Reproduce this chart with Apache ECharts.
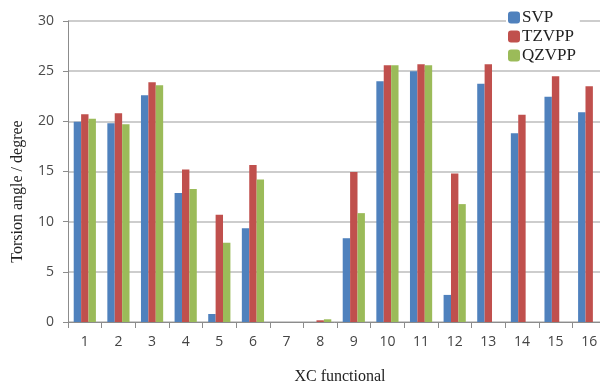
<!DOCTYPE html>
<html>
<head>
<meta charset="utf-8">
<script src="https://cdn.jsdelivr.net/npm/echarts@6/dist/echarts.min.js"></script>
<style>
  html, body { margin: 0; padding: 0; background: #fff; }
  #chart { width: 600px; height: 384px; }
</style>
</head>
<body>
<div id="chart"></div>
<script>
var categories = ['1', '2', '3', '4', '5', '6', '7', '8', '9', '10', '11', '12', '13', '14', '15', '16'];
var svp = [19.95, 19.8, 22.6, 12.85, 0.8, 9.35, 0, 0, 8.35, 24.0, 25.0, 2.7, 23.75, 18.8, 22.45, 20.9];
var tzvpp = [20.7, 20.8, 23.9, 15.2, 10.7, 15.65, 0, 0.17, 14.95, 25.6, 25.7, 14.8, 25.7, 20.65, 24.5, 23.5];
var qzvpp = [20.25, 19.7, 23.6, 13.25, 7.9, 14.2, 0, 0.27, 10.85, 25.6, 25.6, 11.75, null, null, null, null];

var chart = echarts.init(document.getElementById('chart'));
var serif = '"Liberation Serif", "DejaVu Serif", serif';
var sans = '"Open Sans", "Liberation Sans", sans-serif';

var option = {
    animation: false,
    color: ['#4f81bd', '#c0504d', '#9bbb59'],
    grid: {
        left: 68,
        top: 21,
        width: 538,
        height: 301,
        outerBoundsMode: 'none',
        containLabel: false
    },
    legend: {
        orient: 'vertical',
        left: 506,
        top: 8,
        itemWidth: 12,
        itemHeight: 12,
        itemGap: 2,
        padding: [1, 4, 1, 2],
        backgroundColor: '#fff',
        textStyle: {
            fontFamily: serif,
            fontSize: 17,
            lineHeight: 17,
            color: '#222',
            padding: [0, 0, 0, -3]
        },
        data: ['SVP', 'TZVPP', 'QZVPP']
    },
    xAxis: {
        type: 'category',
        data: categories,
        name: 'XC functional',
        nameLocation: 'middle',
        nameGap: 47,
        nameTextStyle: { fontFamily: serif, fontSize: 16, color: '#222', padding: [0, 0, 0, 6] },
        axisLine: { lineStyle: { color: '#8c8c8c' } },
        axisTick: { show: true, length: 6, lineStyle: { color: '#8c8c8c' } },
        axisLabel: { fontFamily: sans, fontSize: 14, color: '#444', margin: 13 }
    },
    yAxis: {
        type: 'value',
        min: 0,
        max: 30,
        interval: 5,
        name: 'Torsion angle / degree',
        nameLocation: 'middle',
        nameGap: 42,
        nameTextStyle: { fontFamily: serif, fontSize: 16, color: '#222', padding: [0, 40, 0, 0] },
        axisLine: { show: true, lineStyle: { color: '#8c8c8c' } },
        axisTick: { show: true, length: 5, lineStyle: { color: '#8c8c8c' } },
        axisLabel: { fontFamily: sans, fontSize: 14, color: '#4a4a4a', margin: 14 },
        splitLine: { lineStyle: { color: '#bdbdbd', width: 1.5 } }
    },
    series: [
        { name: 'SVP', type: 'bar', data: svp, barGap: '0%', barCategoryGap: '34%' },
        { name: 'TZVPP', type: 'bar', data: tzvpp, barGap: '0%', barCategoryGap: '34%' },
        { name: 'QZVPP', type: 'bar', data: qzvpp, barGap: '0%', barCategoryGap: '34%' }
    ]
};

chart.setOption(option);
</script>
</body>
</html>
